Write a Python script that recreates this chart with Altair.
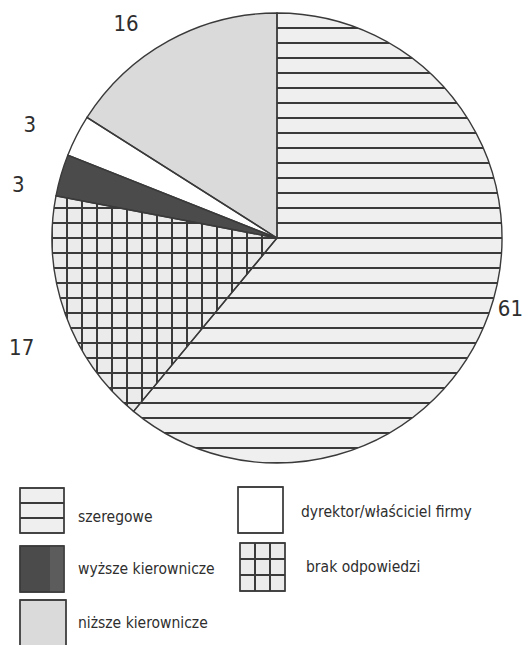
import math
import altair as alt
import pandas as pd

# ---------------- data ----------------
categories = ["szeregowe", "brak odpowiedzi", "wyższe kierownicze",
              "dyrektor/właściciel firmy", "niższe kierownicze"]
values = [61, 17, 3, 3, 16]
labels = ["61", "17", "3", "3", "16"]

# ---------------- style / layout ----------------
fills = ["#efefef", "#ebebeb", "#4b4b4b", "#ffffff", "#dadada"]
LINE = "#3a3a3a"
FONT = "DejaVu Sans Condensed, Liberation Sans Narrow, Arial Narrow, Liberation Sans"
label_radius = [244, 278, 264, 272, 262]        # px from centre
label_shift_deg = [-2.9, -3.5, -4.6, -2.4, -6.4]  # angular nudge of labels

OFF = 8
CX, CY, R = 277 - OFF, 238 - OFF, 225
W, H = 516, 640
STEP = 15.0  # hatch spacing, px
LW = 1.7     # hatch line width, px

total = float(sum(values))
theta_scale = alt.Scale(domain=[0, total], range=[0, 2 * math.pi])


def arc_bbox(a0, a1):
    pts = [(CX, CY)]
    angs = [a0, a1] + [k * math.pi / 2 for k in range(5) if a0 < k * math.pi / 2 < a1]
    for a in angs:
        pts.append((CX + R * math.sin(a), CY - R * math.cos(a)))
    xs = [p[0] for p in pts]
    ys = [p[1] for p in pts]
    return min(xs), max(xs), min(ys), max(ys)


def stripe_fill(positions, span, bg, fg, vertical_lines=False):
    hw = LW / 2.0 / span
    stops = [(0.0, bg)]
    for p in sorted(positions):
        a = max(0.0, p - hw)
        b = min(1.0, p + hw)
        stops += [(a, bg), (a, fg), (b, fg), (b, bg)]
    stops.append((1.0, bg))
    last = 0.0
    out = []
    for o, c in stops:
        o = max(last, o)
        last = o
        out.append({"offset": round(o, 5), "color": c})
    g = {"gradient": "linear", "stops": out, "x1": 0, "y1": 0, "x2": 0, "y2": 1}
    if vertical_lines:
        g.update({"x2": 1, "y2": 0})
    return g


# angular extents
cum = 0.0
ext = []
for v in values:
    ext.append((cum / total * 2 * math.pi, (cum + v) / total * 2 * math.pi))
    cum += v

CLEAR = "rgba(0,0,0,0)"

# szeregowe: horizontal lines aligned on the centre row
x0, x1, y0, y1 = arc_bbox(*ext[0])
span = y1 - y0
pos = [(CY + k * STEP - y0) / span for k in range(-40, 40)
       if y0 - 0.5 <= CY + k * STEP <= y1 + 0.5]
grad_szer = stripe_fill(pos, span, CLEAR, LINE)

# brak odpowiedzi: grid
x0, x1, y0, y1 = arc_bbox(*ext[1])
spanh = y1 - y0
posh = [(CY + k * STEP - y0) / spanh for k in range(-40, 40) if y0 <= CY + k * STEP <= y1]
grad_brak_h = stripe_fill(posh, spanh, CLEAR, LINE)
spanw = x1 - x0
posw = [(CX + k * STEP - x0) / spanw for k in range(-40, 40) if x0 <= CX + k * STEP <= x1]
grad_brak_v = stripe_fill(posw, spanw, CLEAR, LINE, vertical_lines=True)

df = pd.DataFrame({
    "cat": categories,
    "value": values,
    "label": labels,
    "order": list(range(len(values))),
    "lr": label_radius,
    "lshift": [d / 360.0 * total for d in label_shift_deg],
})

base = alt.Chart(df).transform_window(
    cum="sum(value)", sort=[alt.SortField("order")], frame=[None, 0]
).transform_calculate(
    start="datum.cum - datum.value",
    lt="datum.cum - datum.value / 2 + datum.lshift",
)

arc_enc = dict(
    theta=alt.Theta("start:Q", scale=theta_scale, stack=None),
    theta2="cum:Q",
    x=alt.value(CX),
    y=alt.value(CY),
)

fill_scale = alt.Scale(domain=categories, range=fills)

pie = base.mark_arc(radius=R).encode(
    fill=alt.Fill("cat:N", scale=fill_scale, legend=None), **arc_enc
)
hatch_szer = base.transform_filter(alt.datum.cat == categories[0]).mark_arc(
    radius=R, fill=grad_szer).encode(**arc_enc)
hatch_brak_h = base.transform_filter(alt.datum.cat == categories[1]).mark_arc(
    radius=R, fill=grad_brak_h).encode(**arc_enc)
hatch_brak_v = base.transform_filter(alt.datum.cat == categories[1]).mark_arc(
    radius=R, fill=grad_brak_v).encode(**arc_enc)
outline = base.mark_arc(radius=R, fill=CLEAR, stroke=LINE, strokeWidth=1.4).encode(**arc_enc)

text = base.mark_text(font=FONT, fontSize=22, color="#2e2e2e", align="center",
                      baseline="middle").encode(
    x=alt.value(CX), y=alt.value(CY),
    theta=alt.Theta("lt:Q", scale=theta_scale, stack=None),
    radius=alt.Radius("lr:Q", scale=None),
    text="label:N",
)

# ---------------- legend (custom, pattern swatches) ----------------
leg_x = [20, 240, 20, 238, 20]
leg_x2 = [64, 285, 64, 283, 66]
leg_y = [488, 543, 546, 487, 600]
leg_y2 = [533, 591, 592, 533, 700]
leg_tx = [78, 306, 78, 301, 78]
leg_ty = [522, 572, 574, 517, 628]

leg = pd.DataFrame({
    "cat": categories,
    "bx": [v - OFF for v in leg_x], "bx2": [v - OFF for v in leg_x2],
    "by": [v - OFF for v in leg_y], "by2": [v - OFF for v in leg_y2],
    "tx": [v - OFF for v in leg_tx], "ty": [v - OFF for v in leg_ty],
})
lbase = alt.Chart(leg)
box_enc = dict(
    x=alt.X("bx:Q", scale=None), x2="bx2:Q",
    y=alt.Y("by:Q", scale=None), y2="by2:Q",
)
leg_box = lbase.mark_rect(stroke=LINE, strokeWidth=1.3).encode(
    fill=alt.Fill("cat:N", scale=fill_scale, legend=None), **box_enc)
leg_szer = lbase.transform_filter(alt.datum.cat == categories[0]).mark_rect(
    fill=stripe_fill([1 / 3, 2 / 3], 45, CLEAR, LINE)).encode(**box_enc)
leg_brak_h = lbase.transform_filter(alt.datum.cat == categories[1]).mark_rect(
    fill=stripe_fill([1 / 3, 2 / 3], 48, CLEAR, LINE)).encode(**box_enc)
leg_brak_v = lbase.transform_filter(alt.datum.cat == categories[1]).mark_rect(
    fill=stripe_fill([1 / 3, 2 / 3], 45, CLEAR, LINE, vertical_lines=True)).encode(**box_enc)
leg_wy = lbase.transform_filter(alt.datum.cat == categories[2]).mark_rect(
    fill={"gradient": "linear", "x1": 0, "y1": 0, "x2": 1, "y2": 0,
          "stops": [{"offset": 0, "color": CLEAR}, {"offset": 0.68, "color": CLEAR},
                    {"offset": 0.68, "color": "#5c5c5c"}, {"offset": 1, "color": "#5c5c5c"}]}
).encode(**box_enc)
leg_outline = lbase.mark_rect(fill=CLEAR, stroke=LINE, strokeWidth=1.3).encode(**box_enc)
leg_text = lbase.mark_text(font=FONT, fontSize=15.5, color="#2e2e2e", align="left",
                           baseline="alphabetic").encode(
    x=alt.X("tx:Q", scale=None), y=alt.Y("ty:Q", scale=None), text="cat:N")

chart = alt.layer(
    pie, hatch_szer, hatch_brak_h, hatch_brak_v, outline, text,
    leg_box, leg_szer, leg_brak_h, leg_brak_v, leg_wy, leg_outline, leg_text,
).properties(
    width=W, height=H, padding=0, autosize="none",
).configure_view(stroke=None)

chart.save("out.html", embed_options={"renderer": "svg", "actions": False})
